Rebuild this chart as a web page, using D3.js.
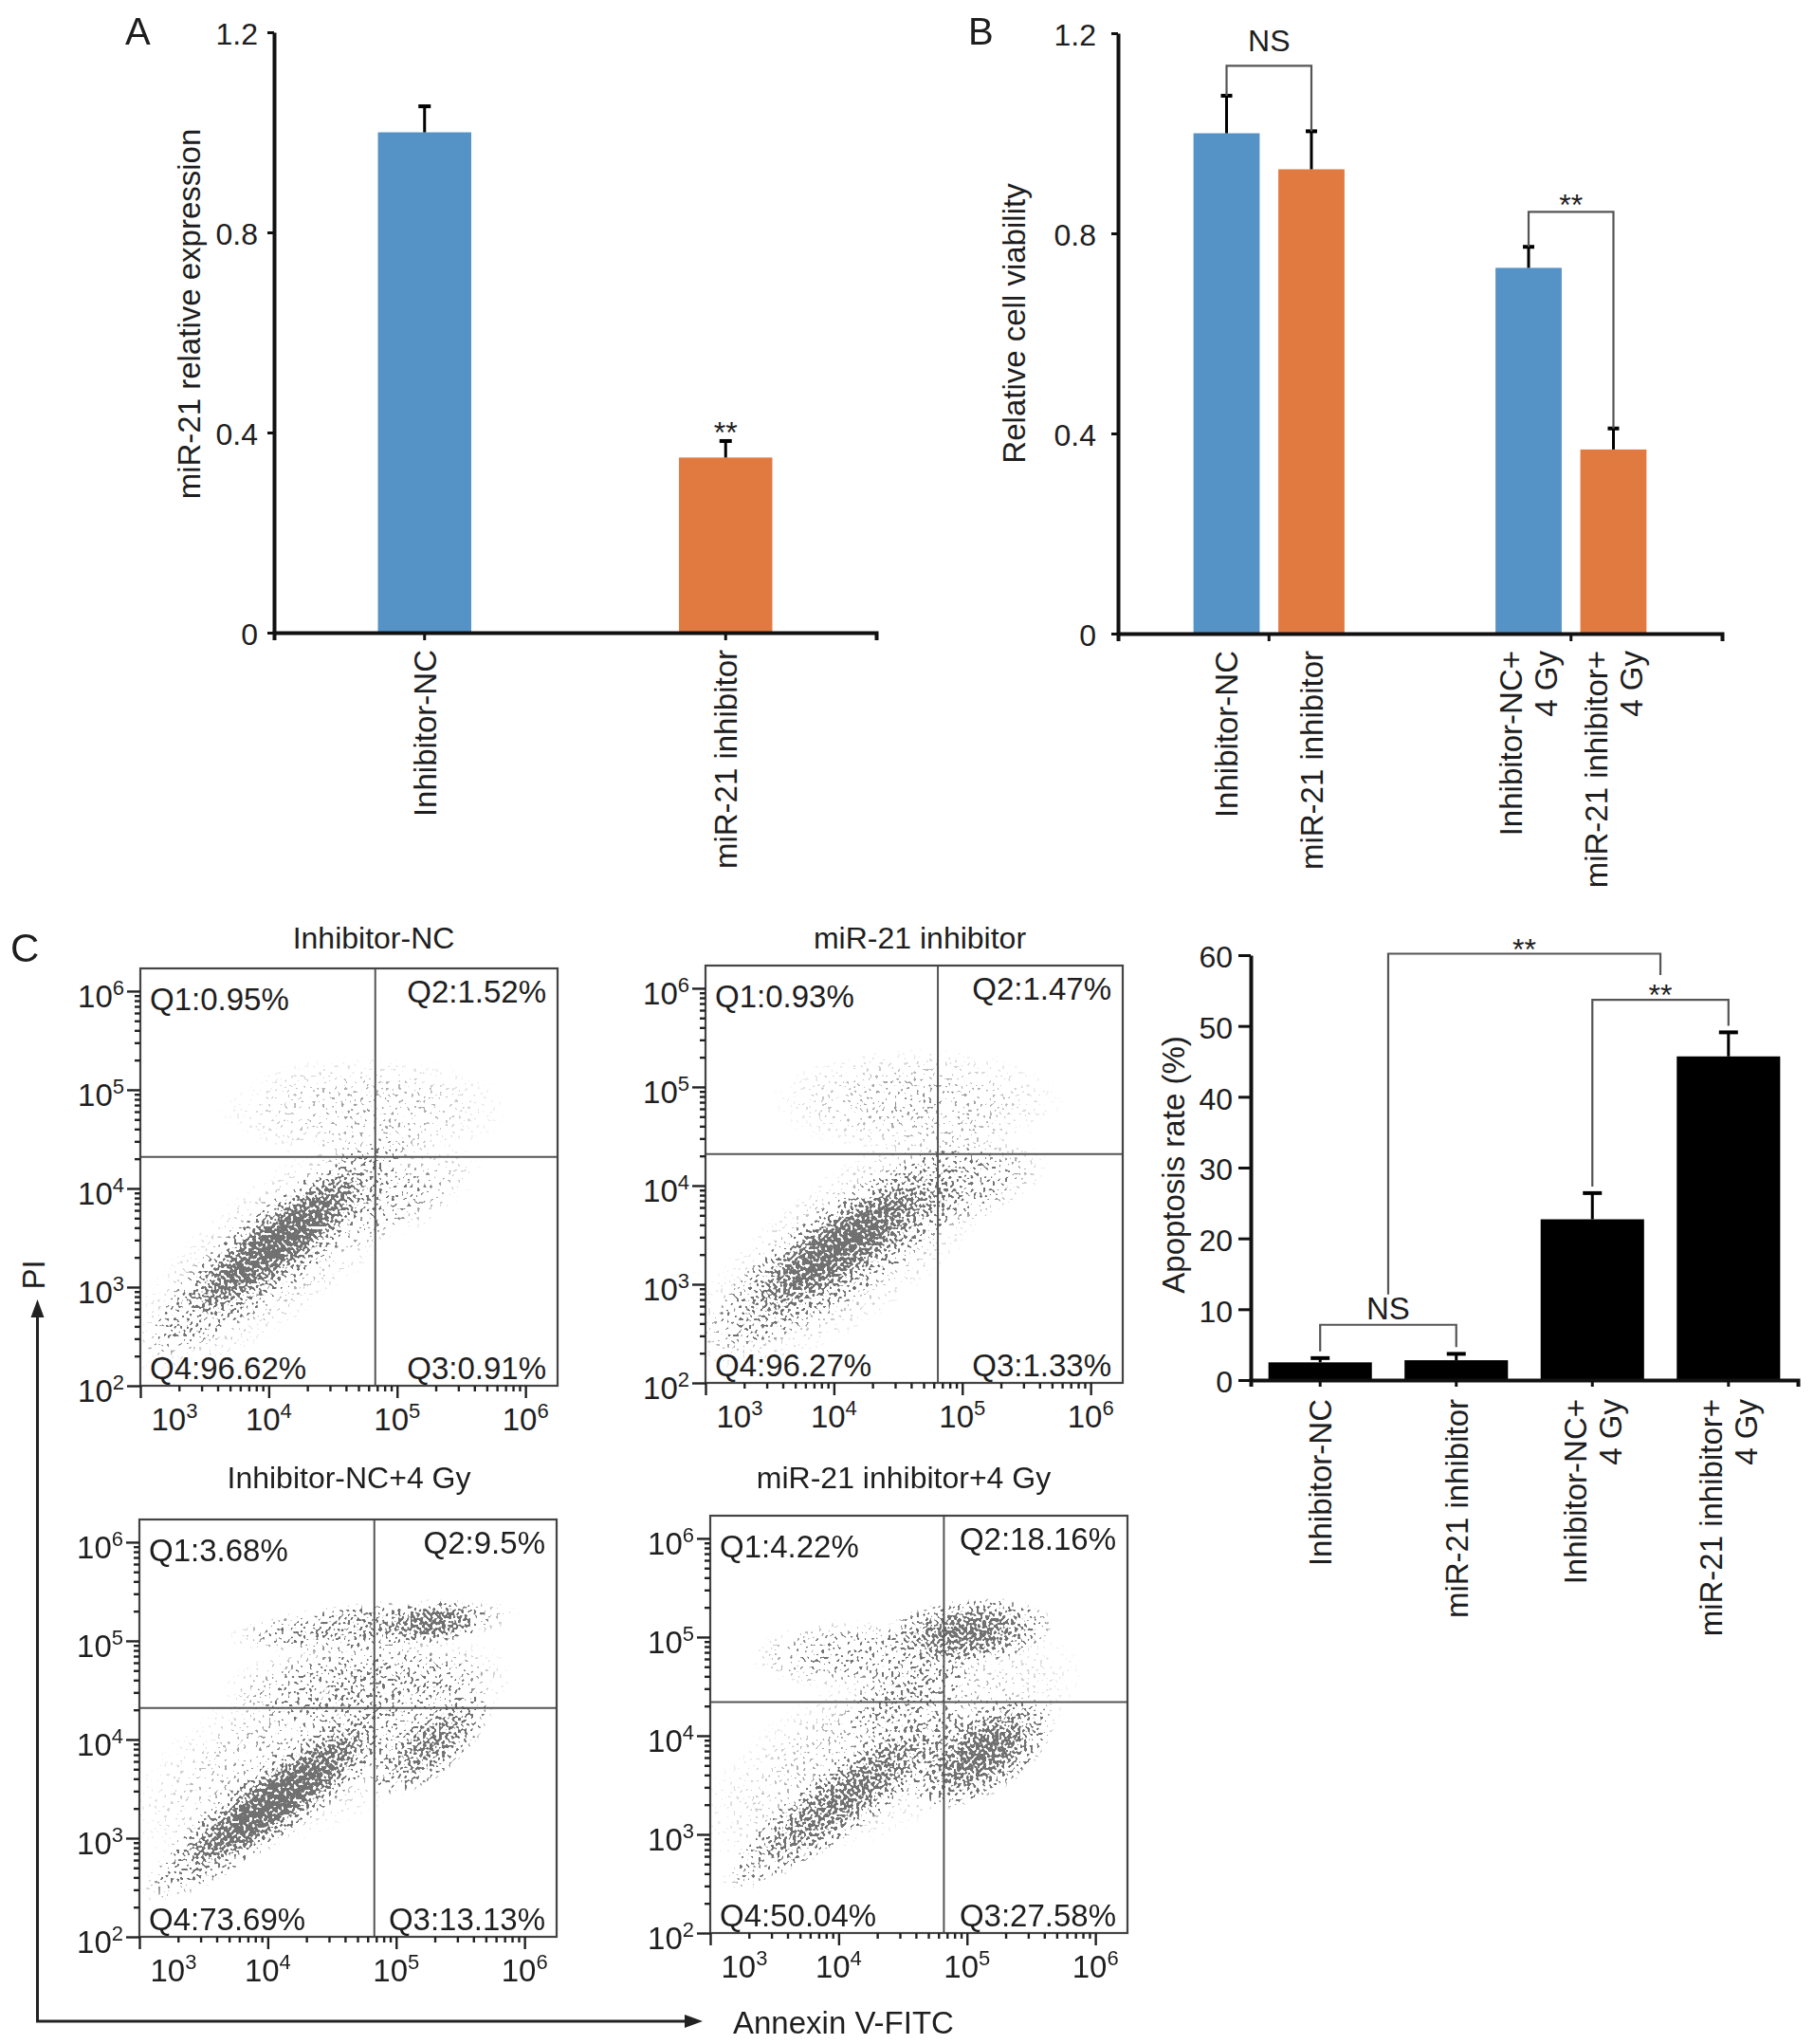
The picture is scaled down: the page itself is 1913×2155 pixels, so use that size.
<!DOCTYPE html>
<html>
<head>
<meta charset="utf-8">
<script src="https://cdn.jsdelivr.net/npm/d3@7/dist/d3.min.js"></script>
<style>
  body { margin: 0; background: #fff; }
  svg text { font-family: "Liberation Sans", Arial, Helvetica, sans-serif; fill: #1e1e1e; }
</style>
</head>
<body>
<div id="chart"></div>
<script>
// ---------------- data ----------------
// panel A: miR-21 relative expression
const aLabels = [["Inhibitor-NC"], ["miR-21 inhibitor"]];
const aValues = [1.0, 0.35];
const aErrors = [0.052, 0.033];
const aTicks = [0, 0.4, 0.8, 1.2];

// panel B: relative cell viability
const bLabels = [["Inhibitor-NC"], ["miR-21 inhibitor"], ["Inhibitor-NC+", "4 Gy"], ["miR-21 inhibitor+", "4 Gy"]];
const bValues = [1.0, 0.928, 0.731, 0.368];
const bErrors = [0.075, 0.076, 0.042, 0.042];
const bTicks = [0, 0.4, 0.8, 1.2];
const bBrackets = [
  {from: 0, to: 1, level: 1.135, label: "NS"},
  {from: 2, to: 3, level: 0.843, label: "**"}
];

// panel C (right): apoptosis rate
const cLabels = bLabels;
const cValues = [2.5, 2.8, 22.7, 45.7];
const cErrors = [0.6, 0.9, 3.7, 3.4];
const cTicks = [0, 10, 20, 30, 40, 50, 60];

// panel C (left): flow cytometry, log10 units
const flowTitles = ["Inhibitor-NC", "miR-21 inhibitor", "Inhibitor-NC+4 Gy", "miR-21 inhibitor+4 Gy"];
const flowQuadrants = [
  ["Q1:0.95%", "Q2:1.52%", "Q3:0.91%", "Q4:96.62%"],
  ["Q1:0.93%", "Q2:1.47%", "Q3:1.33%", "Q4:96.27%"],
  ["Q1:3.68%", "Q2:9.5%", "Q3:13.13%", "Q4:73.69%"],
  ["Q1:4.22%", "Q2:18.16%", "Q3:27.58%", "Q4:50.04%"]
];
const flowGates = [[4.83, 4.32], [4.81, 4.32], [4.83, 4.32], [4.82, 4.34]];
const flowYDecades = [2, 3, 4, 5, 6];
const flowXDecades = [3, 4, 5, 6];
// cell populations: [x1, y1, x2, y2, half width, density] (spine from point 1 to point 2)
const flowPopulations = [
  [[3.25, 2.55, 4.85, 4.25, 0.42, 0.62], [3.55, 2.95, 4.6, 4.0, 0.27, 0.85],
   [3.2, 2.5, 5.0, 4.3, 0.7, 0.14],
   [3.9, 4.8, 5.6, 4.8, 0.55, 0.11], [4.6, 3.6, 5.5, 4.2, 0.35, 0.14]],
  [[3.25, 2.6, 4.95, 4.15, 0.48, 0.6], [3.55, 2.95, 4.55, 3.85, 0.3, 0.82],
   [3.2, 2.5, 5.1, 4.3, 0.75, 0.15],
   [3.8, 4.85, 5.5, 4.85, 0.55, 0.12], [4.7, 3.8, 5.5, 4.2, 0.35, 0.18]],
  [[3.25, 2.6, 4.85, 4.15, 0.38, 0.75], [3.5, 2.85, 4.6, 3.9, 0.25, 0.88],
   [4.95, 3.6, 5.6, 4.3, 0.32, 0.6], [3.9, 5.05, 5.75, 5.25, 0.25, 0.4],
   [5.0, 5.15, 5.6, 5.22, 0.22, 0.65], [3.9, 4.5, 5.6, 4.6, 0.45, 0.25],
   [3.3, 3.3, 5.5, 4.6, 0.85, 0.14]],
  [[3.3, 2.65, 4.8, 4.1, 0.35, 0.72], [4.75, 3.5, 5.5, 4.15, 0.42, 0.82],
   [4.5, 4.98, 5.5, 5.12, 0.34, 0.8], [3.5, 4.8, 4.6, 4.85, 0.35, 0.22],
   [4.2, 4.2, 4.9, 4.7, 0.35, 0.3], [3.3, 3.2, 5.5, 4.6, 0.85, 0.13]]
];

const blue = "#5592c6", orange = "#e07a41";

// ---------------- svg ----------------
const svg = d3.select("#chart").append("svg")
  .attr("width", 1913)
  .attr("height", 2155);

const defs = svg.append("defs");
const grad = defs.append("radialGradient").attr("id", "popGrad");
[[0, 1], [0.45, 0.7], [1, 0]].forEach(([o, a]) => {
  grad.append("stop").attr("offset", o).attr("stop-color", "#000").attr("stop-opacity", a);
});

function styleAxis(sel, width) {
  sel.attr("font-size", null).attr("font-family", null);
  sel.select(".domain").attr("stroke", "#111").attr("stroke-width", width);
  sel.selectAll(".tick line").attr("stroke", "#111").attr("stroke-width", 3);
  sel.selectAll(".tick text").attr("font-size", 32).attr("fill", "#1e1e1e");
}

function rotatedLabel(g, x, y, lines, size, lineH) {
  const t = g.append("text")
    .attr("transform", `translate(${x},${y}) rotate(-90)`)
    .attr("text-anchor", "end")
    .attr("font-size", size);
  lines.forEach((ln, j) => {
    t.append("tspan").attr("x", 0)
      .attr("y", (j - (lines.length - 1) / 2) * lineH + size * 0.36)
      .text(ln);
  });
}

function barPanel(o) {
  const g = svg.append("g");
  const y = d3.scaleLinear().domain([0, o.max]).range([o.y0, o.y1]);
  const perGroup = o.values.length / o.groups;
  const outer = d3.scaleBand().domain(d3.range(o.groups))
    .range([o.x0, o.x1]).paddingInner(o.padIn).paddingOuter(o.padOut);
  const inner = d3.scaleBand().domain(d3.range(perGroup))
    .range([0, outer.bandwidth()]).paddingInner(o.innerPad || 0);
  const bx = i => outer(Math.floor(i / perGroup)) + inner(i % perGroup);
  const bw = inner.bandwidth();
  const cx = i => bx(i) + bw / 2;

  // bars
  g.selectAll(".bar").data(o.values).join("rect")
    .attr("class", "bar")
    .attr("x", (d, i) => bx(i))
    .attr("width", bw)
    .attr("y", d => y(d))
    .attr("height", d => o.y0 - y(d))
    .attr("fill", (d, i) => o.colors[i % o.colors.length]);

  // error bars (upper half only)
  o.values.forEach((v, i) => {
    const top = y(v + o.errors[i]);
    g.append("line").attr("x1", cx(i)).attr("x2", cx(i)).attr("y1", y(v)).attr("y2", top)
      .attr("stroke", "#000").attr("stroke-width", o.errW);
    g.append("line").attr("x1", cx(i) - o.capW / 2).attr("x2", cx(i) + o.capW / 2)
      .attr("y1", top).attr("y2", top).attr("stroke", "#000").attr("stroke-width", o.errW + 1);
  });

  // axes
  g.append("g").attr("transform", `translate(0,${o.y0})`)
    .call(d3.axisBottom(outer).tickSize(o.xTick).tickSizeOuter(o.xTick).tickFormat(""))
    .call(s => styleAxis(s, o.axisW));
  g.append("g").attr("transform", `translate(${o.x0},0)`)
    .call(d3.axisLeft(y).tickValues(o.ticks).tickFormat(o.fmt).tickSize(o.yTick).tickSizeOuter(0).tickPadding(o.tickPad))
    .call(s => styleAxis(s, o.axisW))
    .call(s => s.selectAll(".tick text").attr("dy", "0.4em"));

  // category labels
  o.labels.forEach((lines, i) => rotatedLabel(g, cx(i), o.y0 + o.labelGap, lines, 33, 37));

  // y title
  g.append("text")
    .attr("transform", `translate(${o.titleX},${o.titleY}) rotate(-90)`)
    .attr("text-anchor", "middle").attr("font-size", 33)
    .text(o.title);

  return {g, y, cx};
}

function bracket(g, x1, x2, yTop, yL, yR) {
  g.append("path")
    .attr("d", `M${x1},${yL}V${yTop}H${x2}V${yR}`)
    .attr("fill", "none").attr("stroke", "#555").attr("stroke-width", 2.2);
}

const fmt1 = d => d === 0 ? "0" : d3.format(".1f")(d);

// ---- panel A ----
const pa = barPanel({
  x0: 289, x1: 924, y0: 667, y1: 34, max: 1.2,
  groups: 2, padIn: 0.69, padOut: 0.345,
  values: aValues, errors: aErrors, colors: [blue, orange],
  ticks: aTicks, fmt: fmt1, yTick: 7, xTick: 8, tickPad: 10, axisW: 4,
  errW: 3, capW: 13, labels: aLabels, labelGap: 18,
  title: "miR-21 relative expression", titleX: 211, titleY: 331
});
pa.g.append("text").attr("x", pa.cx(1)).attr("y", pa.y(aValues[1] + aErrors[1]) + 2)
  .attr("text-anchor", "middle").attr("font-size", 32).text("**");

// ---- panel B ----
const pb = barPanel({
  x0: 1179, x1: 1816, y0: 668, y1: 35, max: 1.2,
  groups: 2, padIn: 0.5, padOut: 0.25, innerPad: 0.22,
  values: bValues, errors: bErrors, colors: [blue, orange],
  ticks: bTicks, fmt: fmt1, yTick: 7, xTick: 8, tickPad: 16, axisW: 4,
  errW: 3, capW: 12, labels: bLabels, labelGap: 18,
  title: "Relative cell viability", titleX: 1081, titleY: 341
});
bBrackets.forEach(b => {
  const yT = pb.y(b.level);
  bracket(pb.g, pb.cx(b.from), pb.cx(b.to), yT,
    pb.y(bValues[b.from] + bErrors[b.from]), pb.y(bValues[b.to] + bErrors[b.to]));
  pb.g.append("text").attr("x", (pb.cx(b.from) + pb.cx(b.to)) / 2)
    .attr("y", b.label === "NS" ? yT - 15 : yT + 4)
    .attr("text-anchor", "middle").attr("font-size", 32).text(b.label);
});

// ---- panel C bar chart ----
const pc = barPanel({
  x0: 1319, x1: 1896, y0: 1455, y1: 1007, max: 60,
  groups: 4, padIn: 0.24, padOut: 0.13,
  values: cValues, errors: cErrors, colors: ["#000"],
  ticks: cTicks, fmt: d3.format("d"), yTick: 13, xTick: 7, tickPad: 6, axisW: 4,
  errW: 3, capW: 20, labels: cLabels, labelGap: 20,
  title: "Apoptosis rate (%)", titleX: 1249, titleY: 1228
});
{
  const errTop = i => pc.y(cValues[i] + cErrors[i]) - 7;
  const m01 = (pc.cx(0) + pc.cx(1)) / 2, m23 = (pc.cx(2) + pc.cx(3)) / 2;
  // NS between the two unirradiated groups
  const yNS = pc.y(7.8);
  bracket(pc.g, pc.cx(0), pc.cx(1), yNS, errTop(0), errTop(1));
  pc.g.append("text").attr("x", m01).attr("y", yNS - 6).attr("text-anchor", "middle")
    .attr("font-size", 33).text("NS");
  // ** between the two irradiated groups
  const y23 = pc.y(53.7);
  bracket(pc.g, pc.cx(2), pc.cx(3), y23, errTop(2), errTop(3));
  pc.g.append("text").attr("x", m23).attr("y", y23 + 6).attr("text-anchor", "middle")
    .attr("font-size", 32).text("**");
  // ** between the two comparisons
  const yTop = pc.y(60.2);
  bracket(pc.g, m01, m23, yTop, yNS - 32, y23 - 26);
  pc.g.append("text").attr("x", (m01 + m23) / 2).attr("y", yTop + 6).attr("text-anchor", "middle")
    .attr("font-size", 32).text("**");
}

// ---- flow plots ----
const flowLayout = [
  {x: 148, y: 1021, titleX: 394, titleY: 1000},
  {x: 744, y: 1018, titleX: 970, titleY: 1000},
  {x: 147, y: 1602, titleX: 368, titleY: 1569},
  {x: 749, y: 1598, titleX: 953, titleY: 1569}
];
const boxW = 440, boxH = 440;

flowLayout.forEach((L, k) => {
  const g = svg.append("g");
  const xs = d3.scaleLog().domain([1e3, Math.pow(10, 6.25)]).range([L.x, L.x + boxW]);
  const ys = d3.scaleLog().domain([1e2, Math.pow(10, 6.23)]).range([L.y + boxH, L.y]);
  const decY = ys(1e3) - ys(1e4);

  // speckle filter: density shapes thresholded against a noise grain
  const f = defs.append("filter").attr("id", "speckle" + k)
    .attr("filterUnits", "userSpaceOnUse")
    .attr("x", L.x).attr("y", L.y).attr("width", boxW).attr("height", boxH)
    .attr("color-interpolation-filters", "sRGB");
  f.append("feTurbulence").attr("type", "fractalNoise").attr("baseFrequency", 0.3)
    .attr("numOctaves", 1).attr("seed", 7 + k).attr("result", "noise");
  f.append("feColorMatrix").attr("in", "noise").attr("type", "matrix")
    .attr("values", "0 0 0 0 0  0 0 0 0 0  0 0 0 0 0  3 0 0 0 -1").attr("result", "grain");
  f.append("feComposite").attr("in", "SourceGraphic").attr("in2", "grain")
    .attr("operator", "arithmetic").attr("k1", 0).attr("k2", 1).attr("k3", 1).attr("k4", -1)
    .attr("result", "hit");
  f.append("feComponentTransfer").attr("in", "hit").attr("result", "dots")
    .append("feFuncA").attr("type", "linear").attr("slope", 7).attr("intercept", 0);
  f.append("feFlood").attr("flood-color", "#3a3a3a").attr("flood-opacity", 0.72).attr("result", "ink");
  f.append("feComposite").attr("in", "ink").attr("in2", "dots").attr("operator", "in");

  const cloud = g.append("g").attr("filter", `url(#speckle${k})`);
  cloud.selectAll("ellipse").data(flowPopulations[k]).join("ellipse")
    .each(function (p) {
      const x1 = xs(Math.pow(10, p[0])), y1 = ys(Math.pow(10, p[1]));
      const x2 = xs(Math.pow(10, p[2])), y2 = ys(Math.pow(10, p[3]));
      const half = Math.hypot(x2 - x1, y2 - y1) / 2;
      const ry = p[4] * decY;
      const ang = Math.atan2(y2 - y1, x2 - x1) * 180 / Math.PI;
      d3.select(this)
        .attr("cx", 0).attr("cy", 0)
        .attr("rx", half * 1.15 + ry * 0.4).attr("ry", ry)
        .attr("transform", `translate(${(x1 + x2) / 2},${(y1 + y2) / 2}) rotate(${ang})`)
        .attr("fill", "url(#popGrad)")
        .attr("fill-opacity", p[5]);
    });

  // gates
  const [gx, gy] = flowGates[k];
  g.append("line").attr("x1", xs(Math.pow(10, gx))).attr("x2", xs(Math.pow(10, gx)))
    .attr("y1", L.y).attr("y2", L.y + boxH).attr("stroke", "#555").attr("stroke-width", 2);
  g.append("line").attr("x1", L.x).attr("x2", L.x + boxW)
    .attr("y1", ys(Math.pow(10, gy))).attr("y2", ys(Math.pow(10, gy)))
    .attr("stroke", "#555").attr("stroke-width", 2);

  // frame
  g.append("rect").attr("x", L.x).attr("y", L.y).attr("width", boxW).attr("height", boxH)
    .attr("fill", "none").attr("stroke", "#444").attr("stroke-width", 2.2);

  // ticks
  const minorY = [], minorX = [];
  [2, 3, 4, 5].forEach(e => d3.range(2, 10).forEach(m => minorY.push(m * Math.pow(10, e))));
  [3, 4, 5].forEach(e => d3.range(2, 10).forEach(m => minorX.push(m * Math.pow(10, e))));
  const yAx = g.append("g").attr("transform", `translate(${L.x},0)`);
  yAx.call(d3.axisLeft(ys).tickValues(flowYDecades.map(e => Math.pow(10, e))).tickSize(14).tickFormat(""));
  yAx.append("g").call(d3.axisLeft(ys).tickValues(minorY).tickSize(6).tickFormat(""));
  const xAx = g.append("g").attr("transform", `translate(0,${L.y + boxH})`);
  xAx.call(d3.axisBottom(xs).tickValues(flowXDecades.map(e => Math.pow(10, e))).tickSize(13).tickFormat(""));
  xAx.append("g").call(d3.axisBottom(xs).tickValues(minorX).tickSize(6).tickFormat(""));
  g.selectAll(".domain").remove();
  g.selectAll(".tick line").attr("stroke", "#222").attr("stroke-width", 2.4);

  // tick labels with superscripts
  flowYDecades.forEach(e => {
    const t = g.append("text").attr("x", L.x - 17).attr("y", ys(Math.pow(10, e)) + 17)
      .attr("text-anchor", "end").attr("font-size", 33);
    t.append("tspan").text("10");
    t.append("tspan").attr("dy", -13).attr("font-size", 22).text(e);
  });
  flowXDecades.forEach(e => {
    const x0 = xs(Math.pow(10, e)) + (e === 3 ? 36 : 0);
    const t = g.append("text").attr("x", x0).attr("y", L.y + boxH + 47)
      .attr("text-anchor", "middle").attr("font-size", 33);
    t.append("tspan").text("10");
    t.append("tspan").attr("dy", -13).attr("font-size", 22).text(e);
  });

  // quadrant percentages
  const q = flowQuadrants[k];
  const qPos = [
    [L.x + 10, L.y + 44, "start"], [L.x + boxW - 12, L.y + 36, "end"],
    [L.x + boxW - 12, L.y + boxH - 7, "end"], [L.x + 10, L.y + boxH - 7, "start"]
  ];
  q.forEach((s, i) => {
    g.append("text").attr("x", qPos[i][0]).attr("y", qPos[i][1])
      .attr("text-anchor", qPos[i][2]).attr("font-size", 33).text(s);
  });

  g.append("text").attr("x", L.titleX).attr("y", L.titleY)
    .attr("text-anchor", "middle").attr("font-size", 32).text(flowTitles[k]);
});

// PI / Annexin V-FITC axes arrows
const arrows = svg.append("g");
arrows.append("path").attr("d", "M39.5,1386V2131H726")
  .attr("fill", "none").attr("stroke", "#222").attr("stroke-width", 3);
arrows.append("path").attr("d", "M39.5,1370l-7,19h14z").attr("fill", "#222");
arrows.append("path").attr("d", "M741,2131l-19,-7v14z").attr("fill", "#222");
arrows.append("text").attr("transform", "translate(47,1344) rotate(-90)")
  .attr("text-anchor", "middle").attr("font-size", 33).text("PI");
arrows.append("text").attr("x", 773).attr("y", 2144).attr("font-size", 33).text("Annexin V-FITC");

// panel letters
svg.append("text").attr("x", 132).attr("y", 47).attr("font-size", 40).text("A");
svg.append("text").attr("x", 1021).attr("y", 47).attr("font-size", 40).text("B");
svg.append("text").attr("x", 11).attr("y", 1014).attr("font-size", 42).text("C");
</script>
</body>
</html>
